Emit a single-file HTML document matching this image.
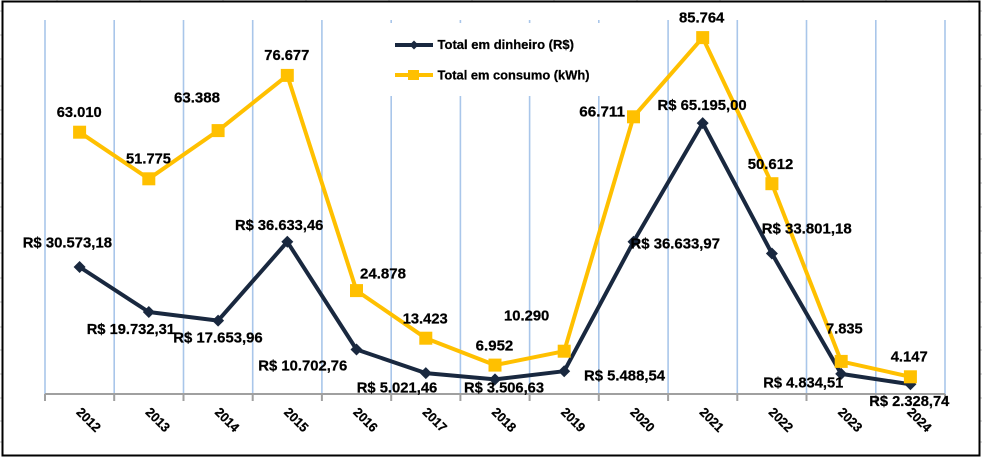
<!DOCTYPE html>
<html><head><meta charset="utf-8"><style>
html,body{margin:0;padding:0;background:#fff;}
svg{display:block;}
text{font-family:"Liberation Sans",Arial,sans-serif;font-weight:bold;fill:#000;stroke:#000;stroke-width:0.25;}
</style></head><body>
<svg width="982" height="457" viewBox="0 0 982 457" xmlns="http://www.w3.org/2000/svg">
<rect x="0" y="0" width="982" height="457" fill="#fff"/>
<!-- spreadsheet cell ticks outside frame -->
<g stroke="#bfbfbf" stroke-width="1">
<path d="M0 11H2M0 35H2M0 59H2M0 86H2M0 110H2M0 134H2M0 159H2M0 183H2M0 207H2M0 231H2M0 253H2M0 278H2M0 302H2M0 327H2M0 350H2M0 374H2M0 398H2M0 421H2M0 442H2"/>
<path d="M980 11H982M980 35H982M980 59H982M980 86H982M980 110H982M980 134H982M980 159H982M980 183H982M980 207H982M980 231H982M980 253H982M980 278H982M980 302H982M980 327H982M980 350H982M980 374H982M980 398H982M980 421H982M980 442H982"/>
<path d="M389 0V1M472 0V1M554 0V1M637 0V1M720 0V1M803 0V1M886 0V1M969 0V1M306 0V1M223 0V1M140 0V1M57 0V1"/>
</g>
<!-- frame -->
<rect x="2.5" y="1.5" width="977" height="454" fill="none" stroke="#000" stroke-width="2"/>
<!-- gridlines -->
<g stroke="#a9c6ea" stroke-width="1.6">
<path d="M45 20V394M114.2 20V394M183.5 20V394M252.7 20V394M321.9 20V394M391.2 20V394M460.4 20V394M529.6 20V394M598.8 20V394M668.1 20V394M737.3 20V394M806.5 20V394M875.8 20V394M945 20V394"/>
</g>
<!-- legend background -->
<rect x="380" y="23" width="235" height="73" fill="#fff"/>
<!-- axis -->
<g stroke="#a0a0a0" stroke-width="2">
<path d="M45 394H945"/>
<path d="M45 394V401M114.2 394V401M183.5 394V401M252.7 394V401M321.9 394V401M391.2 394V401M460.4 394V401M529.6 394V401M598.8 394V401M668.1 394V401M737.3 394V401M806.5 394V401M875.8 394V401M945 394V401"/>
</g>
<!-- money series -->
<polyline fill="none" stroke="#19283f" stroke-width="4" stroke-linejoin="round" points="79.6,267 148.8,312 218.1,320.6 287.3,241.8 356.5,349.5 425.8,373.1 495,379.4 564.2,371.2 633.5,241.8 702.7,123.1 771.9,253.5 841.2,373.9 910.4,384.3"/>
<g fill="#19283f">
<path d="M79.6 261l6 6-6 6-6-6z"/>
<path d="M148.8 306l6 6-6 6-6-6z"/>
<path d="M218.1 314.6l6 6-6 6-6-6z"/>
<path d="M287.3 235.8l6 6-6 6-6-6z"/>
<path d="M356.5 343.5l6 6-6 6-6-6z"/>
<path d="M425.8 367.1l6 6-6 6-6-6z"/>
<path d="M495 373.4l6 6-6 6-6-6z"/>
<path d="M564.2 365.2l6 6-6 6-6-6z"/>
<path d="M633.5 235.8l6 6-6 6-6-6z"/>
<path d="M702.7 117.1l6 6-6 6-6-6z"/>
<path d="M771.9 247.5l6 6-6 6-6-6z"/>
<path d="M841.2 367.9l6 6-6 6-6-6z"/>
<path d="M910.4 378.3l6 6-6 6-6-6z"/>
</g>
<!-- consumption series -->
<polyline fill="none" stroke="#ffc000" stroke-width="4" stroke-linejoin="round" points="79.6,132.2 148.8,178.8 218.1,130.6 287.3,75.4 356.5,290.6 425.8,338.2 495,365.1 564.2,351.2 633.5,116.8 702.7,37.6 771.9,183.7 841.2,361.4 910.4,376.8"/>
<g fill="#ffc000">
<rect x="73.1" y="125.7" width="13" height="13"/>
<rect x="142.3" y="172.3" width="13" height="13"/>
<rect x="211.6" y="124.1" width="13" height="13"/>
<rect x="280.8" y="68.9" width="13" height="13"/>
<rect x="350" y="284.1" width="13" height="13"/>
<rect x="419.3" y="331.7" width="13" height="13"/>
<rect x="488.5" y="358.6" width="13" height="13"/>
<rect x="557.7" y="344.7" width="13" height="13"/>
<rect x="627" y="110.3" width="13" height="13"/>
<rect x="696.2" y="31.1" width="13" height="13"/>
<rect x="765.4" y="177.2" width="13" height="13"/>
<rect x="834.7" y="354.9" width="13" height="13"/>
<rect x="903.9" y="370.3" width="13" height="13"/>
</g>
<!-- consumption labels -->
<g font-size="15">
<text x="56.7" y="117" textLength="45" lengthAdjust="spacingAndGlyphs">63.010</text>
<text x="126" y="163.5" textLength="45" lengthAdjust="spacingAndGlyphs">51.775</text>
<text x="174" y="102.5" textLength="46" lengthAdjust="spacingAndGlyphs">63.388</text>
<text x="264.3" y="60" textLength="45" lengthAdjust="spacingAndGlyphs">76.677</text>
<text x="360" y="278.7" textLength="46" lengthAdjust="spacingAndGlyphs">24.878</text>
<text x="402.7" y="323.3" textLength="45" lengthAdjust="spacingAndGlyphs">13.423</text>
<text x="475.7" y="350.7" textLength="37.6" lengthAdjust="spacingAndGlyphs">6.952</text>
<text x="504" y="320.7" textLength="45.3" lengthAdjust="spacingAndGlyphs">10.290</text>
<text x="579.3" y="116.7" textLength="45.7" lengthAdjust="spacingAndGlyphs">66.711</text>
<text x="679" y="22.7" textLength="45.3" lengthAdjust="spacingAndGlyphs">85.764</text>
<text x="747.7" y="169" textLength="45.6" lengthAdjust="spacingAndGlyphs">50.612</text>
<text x="826" y="333.3" textLength="36.7" lengthAdjust="spacingAndGlyphs">7.835</text>
<text x="890.7" y="361.7" textLength="37" lengthAdjust="spacingAndGlyphs">4.147</text>
</g>
<!-- money labels -->
<g font-size="15">
<text x="22.7" y="247.3" textLength="89.3" lengthAdjust="spacingAndGlyphs">R$ 30.573,18</text>
<text x="86.7" y="334" textLength="88.3" lengthAdjust="spacingAndGlyphs">R$ 19.732,31</text>
<text x="173.3" y="342.7" textLength="89.4" lengthAdjust="spacingAndGlyphs">R$ 17.653,96</text>
<text x="235" y="230" textLength="88.3" lengthAdjust="spacingAndGlyphs">R$ 36.633,46</text>
<text x="258.3" y="370.7" textLength="89" lengthAdjust="spacingAndGlyphs">R$ 10.702,76</text>
<text x="356.7" y="392.3" textLength="80.6" lengthAdjust="spacingAndGlyphs">R$ 5.021,46</text>
<text x="464" y="392.3" textLength="80" lengthAdjust="spacingAndGlyphs">R$ 3.506,63</text>
<text x="584" y="380.7" textLength="81" lengthAdjust="spacingAndGlyphs">R$ 5.488,54</text>
<text x="630.5" y="248.3" textLength="89.5" lengthAdjust="spacingAndGlyphs">R$ 36.633,97</text>
<text x="657.5" y="110" textLength="89.2" lengthAdjust="spacingAndGlyphs">R$ 65.195,00</text>
<text x="761.7" y="233.5" textLength="90" lengthAdjust="spacingAndGlyphs">R$ 33.801,18</text>
<text x="763.3" y="387.3" textLength="80" lengthAdjust="spacingAndGlyphs">R$ 4.834,51</text>
<text x="869.3" y="406" textLength="80" lengthAdjust="spacingAndGlyphs">R$ 2.328,74</text>
</g>
<!-- year labels -->
<g font-size="13">
<text transform="translate(75.6,413) rotate(45)" textLength="28" lengthAdjust="spacingAndGlyphs">2012</text>
<text transform="translate(144.8,413) rotate(45)" textLength="28" lengthAdjust="spacingAndGlyphs">2013</text>
<text transform="translate(214.1,413) rotate(45)" textLength="28" lengthAdjust="spacingAndGlyphs">2014</text>
<text transform="translate(283.3,413) rotate(45)" textLength="28" lengthAdjust="spacingAndGlyphs">2015</text>
<text transform="translate(352.5,413) rotate(45)" textLength="28" lengthAdjust="spacingAndGlyphs">2016</text>
<text transform="translate(421.8,413) rotate(45)" textLength="28" lengthAdjust="spacingAndGlyphs">2017</text>
<text transform="translate(491,413) rotate(45)" textLength="28" lengthAdjust="spacingAndGlyphs">2018</text>
<text transform="translate(560.2,413) rotate(45)" textLength="28" lengthAdjust="spacingAndGlyphs">2019</text>
<text transform="translate(629.5,413) rotate(45)" textLength="28" lengthAdjust="spacingAndGlyphs">2020</text>
<text transform="translate(698.7,413) rotate(45)" textLength="28" lengthAdjust="spacingAndGlyphs">2021</text>
<text transform="translate(767.9,413) rotate(45)" textLength="28" lengthAdjust="spacingAndGlyphs">2022</text>
<text transform="translate(837.2,413) rotate(45)" textLength="28" lengthAdjust="spacingAndGlyphs">2023</text>
<text transform="translate(906.4,413) rotate(45)" textLength="28" lengthAdjust="spacingAndGlyphs">2024</text>
</g>
<!-- legend -->
<path d="M395 45H433" stroke="#19283f" stroke-width="4"/>
<path d="M414 40.5l4.5 4.5-4.5 4.5-4.5-4.5z" fill="#19283f"/>
<text x="437.5" y="49" font-size="12.5" textLength="136.5" lengthAdjust="spacingAndGlyphs">Total em dinheiro (R$)</text>
<path d="M395 75H433" stroke="#ffc000" stroke-width="4"/>
<rect x="408" y="70" width="11" height="10" fill="#ffc000"/>
<text x="437.5" y="79.3" font-size="12.5" textLength="152" lengthAdjust="spacingAndGlyphs">Total em consumo (kWh)</text>
</svg>
</body></html>
